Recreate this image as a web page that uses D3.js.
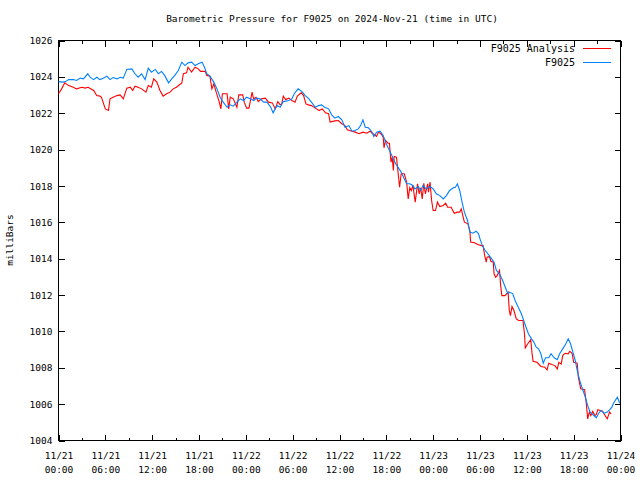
<!DOCTYPE html>
<html><head><meta charset="utf-8">
<script src="https://cdn.jsdelivr.net/npm/d3@7"></script>
<style>
html,body{margin:0;padding:0;background:#fff;}
text{font-family:"DejaVu Sans Mono","Liberation Mono",monospace;font-size:9.5px;fill:#000;}
</style></head>
<body>
<svg id="c" width="640" height="480"></svg>
<script>
// ---- data (hours since 2024-11-21 00:00 UTC, pressure in mb) ----
const seriesNames = ["F9025 Analysis", "F9025"];
const seriesColors = ["#ff0000", "#0080ff"];
const yTicks = [1004,1006,1008,1010,1012,1014,1016,1018,1020,1022,1024,1026];
const xTickLabels = [["11/21","00:00"],["11/21","06:00"],["11/21","12:00"],["11/21","18:00"],["11/22","00:00"],["11/22","06:00"],["11/22","12:00"],["11/22","18:00"],["11/23","00:00"],["11/23","06:00"],["11/23","12:00"],["11/23","18:00"],["11/24","00:00"]];

const analysisHours = [0,0.4,0.8,1.3,1.9,2.3,3.0,3.4,3.8,4.5,4.9,5.3,5.5,6.0,6.4,6.6,7.0,7.5,7.9,8.3,8.75,9.2,9.5,9.8,10.2,10.65,11.2,11.5,11.9,12.2,12.6,13.0,13.4,13.85,14.3,14.7,15.1,15.8,16.0,16.4,16.6,17.05,17.5,17.9,18.2,18.8,19.0,19.4,19.65,19.9,20.2,20.6,20.8,21.0,21.6,21.8,22.0,22.4,22.85,23.1,23.6,23.8,24.1,24.4,24.8,25.0,25.3,25.6,26.0,26.5,26.9,27.4,27.75,28.1,28.4,28.6,28.8,29.1,29.5,29.9,30.3,30.6,31.1,31.4,31.7,32.0,32.4,32.9,33.4,33.8,34.2,34.6,34.8,35.4,35.85,36.3,36.7,37.0,37.6,38.0,38.5,39.0,39.5,39.9,40.3,40.75,41.0,41.4,41.6,41.7,41.9,42.2,42.4,42.5,42.6,42.75,42.9,43.0,43.3,43.5,43.7,43.9,44.3,44.6,44.8,45.0,45.2,45.4,45.7,46.0,46.2,46.4,46.6,46.8,47.0,47.3,47.4,47.6,47.8,48.0,48.3,48.55,48.85,49.3,49.6,49.85,50.3,50.7,51.1,51.4,51.6,51.8,52.0,52.45,52.7,52.8,53.3,53.7,54.2,54.4,54.6,54.8,54.9,55.2,55.4,55.7,55.8,56.0,56.2,56.5,56.65,56.8,57.2,57.6,57.75,57.9,58.1,58.35,58.65,58.95,59.5,59.7,59.8,60.1,60.5,60.65,60.8,61.3,61.8,62.3,62.6,62.8,63.2,63.6,63.9,64.1,64.4,64.6,64.9,65.3,65.5,65.8,66.0,66.45,66.6,66.9,67.4,67.6,67.8,68.0,68.2,68.45,68.7,68.9,69.1,69.4,69.7,69.9,70.3,70.6,70.8];
const analysisValues = [1023.07,1023.34,1023.67,1023.52,1023.43,1023.34,1023.43,1023.38,1023.43,1023.25,1022.97,1022.94,1022.88,1022.24,1022.15,1022.79,1022.88,1022.97,1023.01,1022.79,1023.38,1023.43,1023.25,1023.49,1023.43,1023.34,1023.16,1023.52,1023.43,1023.89,1023.71,1023.25,1022.94,1023.07,1023.16,1023.34,1023.43,1023.67,1024.17,1024.22,1024.53,1024.26,1024.53,1024.44,1024.30,1024.30,1024.08,1024.04,1023.34,1023.62,1023.16,1022.61,1022.24,1023.07,1023.07,1022.24,1022.88,1022.79,1022.33,1023.01,1023.01,1022.61,1022.28,1022.28,1023.16,1022.79,1022.88,1022.64,1022.79,1022.83,1022.61,1022.57,1022.24,1022.64,1022.46,1022.51,1022.94,1022.75,1022.83,1022.70,1022.61,1022.94,1023.12,1022.97,1022.51,1022.46,1022.42,1022.28,1022.15,1022.24,1022.02,1021.97,1021.51,1021.58,1021.60,1021.42,1021.32,1021.09,1021.01,1020.96,1020.87,1020.96,1020.90,1021.01,1020.87,1020.72,1020.96,1020.83,1020.68,1020.10,1020.50,1020.35,1020.35,1019.77,1019.31,1019.58,1018.85,1019.62,1019.58,1018.76,1017.93,1018.67,1018.67,1018.21,1017.29,1017.90,1017.75,1018.03,1017.11,1018.12,1017.57,1017.90,1017.29,1018.15,1017.57,1018.12,1017.66,1018.21,1017.20,1016.65,1016.65,1017.11,1016.87,1016.93,1017.05,1016.83,1016.83,1016.50,1016.56,1016.56,1016.74,1016.37,1016.01,1015.92,1015.55,1014.91,1014.88,1014.78,1014.72,1014.72,1014.17,1013.81,1014.08,1014.12,1013.86,1013.81,1013.17,1012.98,1013.07,1013.35,1012.52,1011.97,1011.97,1012.16,1011.15,1010.87,1011.37,1011.15,1010.69,1010.60,1010.60,1009.87,1009.09,1009.31,1009.54,1008.86,1008.36,1008.30,1008.07,1008.03,1007.89,1008.25,1008.18,1008.12,1007.94,1008.30,1008.21,1008.67,1008.80,1008.77,1008.91,1008.80,1008.30,1008.25,1007.48,1006.84,1006.79,1006.11,1005.19,1005.56,1005.37,1005.61,1005.37,1005.43,1005.69,1005.65,1005.61,1005.46,1005.19,1005.56,1005.46];

const stationHours = [0,0.6,0.9,1.3,1.9,2.3,2.8,3.2,3.75,4.05,4.5,4.9,5.3,5.75,6.2,6.6,7.0,7.5,7.9,8.3,8.75,9.4,9.8,10.2,10.65,11.1,11.5,11.9,12.4,12.8,13.2,13.6,14.1,14.5,14.9,15.35,15.8,16.2,16.6,17.05,17.5,17.9,18.4,18.7,19.0,19.4,19.9,20.3,20.7,21.1,21.6,22.0,22.4,22.85,23.3,23.7,24.1,24.55,25.0,25.4,25.8,26.3,26.7,27.2,27.5,28.0,28.4,28.8,29.5,29.9,30.2,30.7,31.2,31.6,32.0,32.4,32.9,33.3,33.7,34.1,34.6,35.0,35.4,35.85,36.3,36.7,37.2,37.6,38.0,38.4,38.7,39.0,39.3,39.7,40.1,40.4,40.75,41.2,41.6,41.9,42.2,42.6,42.9,43.2,43.5,43.9,44.2,44.6,45.0,45.4,45.65,46.1,46.4,46.7,47.1,47.6,48.0,48.4,48.85,49.3,49.7,50.1,50.6,50.85,51.1,51.4,51.7,52.0,52.4,52.7,53.1,53.5,53.8,54.0,54.3,54.6,55.0,55.5,55.8,56.1,56.5,56.9,57.4,57.6,57.8,58.2,58.5,58.9,59.3,59.6,59.9,60.2,60.6,60.9,61.2,61.5,61.8,62.1,62.4,62.8,63.1,63.5,63.9,64.2,64.6,65.0,65.3,65.6,65.9,66.2,66.5,66.9,67.2,67.5,67.8,68.1,68.45,68.9,69.2,69.5,69.9,70.3,70.6,70.9,71.1,71.6,71.9];
const stationValues = [1023.74,1023.71,1023.74,1023.85,1023.85,1023.80,1023.93,1023.89,1024.17,1023.98,1023.85,1023.98,1023.85,1023.93,1024.04,1023.85,1023.96,1023.89,1023.98,1023.93,1024.41,1024.44,1024.17,1023.98,1024.17,1023.85,1024.48,1024.26,1024.41,1024.17,1024.30,1024.08,1023.67,1023.89,1024.08,1024.35,1024.81,1024.62,1024.77,1024.81,1024.62,1024.72,1024.81,1024.53,1024.17,1024.04,1023.71,1023.34,1022.88,1022.61,1022.33,1022.46,1022.39,1022.61,1022.79,1022.70,1022.88,1022.79,1022.70,1022.83,1022.79,1022.61,1022.61,1022.33,1022.02,1022.42,1022.33,1022.64,1022.70,1022.79,1023.07,1023.34,1023.19,1022.97,1022.83,1022.61,1022.33,1022.42,1022.46,1022.33,1022.24,1021.91,1021.73,1021.82,1021.64,1021.23,1021.32,1021.01,1021.05,1021.14,1021.32,1021.64,1021.23,1021.20,1021.01,1020.72,1020.96,1021.01,1020.77,1020.41,1020.13,1019.77,1019.49,1019.22,1019.03,1018.76,1018.48,1018.12,1018.12,1018.03,1017.84,1017.97,1017.75,1018.03,1017.84,1017.97,1017.84,1017.57,1017.47,1017.29,1017.47,1017.75,1017.90,1017.93,1018.12,1017.75,1017.11,1016.56,1016.10,1015.46,1015.40,1015.51,1015.38,1015.09,1014.72,1014.49,1014.27,1013.99,1013.81,1013.35,1013.17,1012.80,1012.25,1012.07,1012.16,1012.07,1011.70,1011.33,1010.97,1010.60,1010.23,1009.87,1009.59,1009.41,1009.13,1009.04,1008.77,1008.25,1008.55,1008.55,1008.77,1008.55,1008.44,1008.77,1009.04,1009.32,1009.59,1009.32,1008.86,1008.40,1007.76,1007.12,1006.75,1006.38,1005.92,1005.56,1005.43,1005.25,1005.50,1005.65,1005.50,1005.56,1005.69,1005.83,1006.05,1006.38,1006.05];

// ---- drawing ----
const START = Date.UTC(2024, 10, 21, 0, 0);
const H = 3600 * 1000;
const svg = d3.select("#c");
const L = 58.5, R = 620.5, T = 40.5, B = 440.5;
const x = d3.scaleUtc().domain([new Date(START), new Date(START + 72 * H)]).range([L, R]);
const y = d3.scaleLinear().domain([1004, 1026]).range([B, T]);

const g = svg.append("g").attr("shape-rendering", "crispEdges");
const majorDates = d3.range(0, 73, 6).map(h => new Date(START + h * H));
const minorDates = d3.range(0, 73, 3).filter(h => h % 6 !== 0).map(h => new Date(START + h * H));

function clean(s) { s.select(".domain").remove(); s.attr("font-family", null).attr("font-size", null); }

// bottom axis (major ticks with 2-line labels)
const bottom = g.append("g").attr("transform", `translate(0,${B})`)
  .call(d3.axisBottom(x).tickValues(majorDates).tickSize(-6).tickFormat(() => ""))
  .call(clean);
bottom.selectAll(".tick text").each(function(d, i) {
  const t = d3.select(this).attr("y", 0).attr("dy", null);
  t.append("tspan").attr("x", 0).attr("y", 18).text(xTickLabels[i][0]);
  t.append("tspan").attr("x", 0).attr("y", 32).text(xTickLabels[i][1]);
});
// minor ticks bottom
g.append("g").attr("transform", `translate(0,${B})`)
  .call(d3.axisBottom(x).tickValues(minorDates).tickSize(-3).tickFormat(() => "")).call(clean);
// top mirrored ticks
g.append("g").attr("transform", `translate(0,${T})`)
  .call(d3.axisTop(x).tickValues(majorDates).tickSize(-6).tickFormat(() => "")).call(clean);
g.append("g").attr("transform", `translate(0,${T})`)
  .call(d3.axisTop(x).tickValues(minorDates).tickSize(-3).tickFormat(() => "")).call(clean);

// left axis
const left = g.append("g").attr("transform", `translate(${L},0)`)
  .call(d3.axisLeft(y).tickValues(yTicks).tickSize(-6).tickFormat(d3.format("d")))
  .call(clean);
left.selectAll(".tick text").attr("x", -6);
// right mirrored
g.append("g").attr("transform", `translate(${R},0)`)
  .call(d3.axisRight(y).tickValues(yTicks).tickSize(-6).tickFormat(() => "")).call(clean);

// border
g.append("rect").attr("x", L).attr("y", T).attr("width", R - L).attr("height", B - T)
  .attr("fill", "none").attr("stroke", "#000").attr("stroke-width", 1);

// series
const series = [
  { hours: analysisHours, values: analysisValues },
  { hours: stationHours, values: stationValues }
];
const line = d3.line().x(d => x(new Date(START + d[0] * H))).y(d => y(d[1]));
series.forEach((s, i) => {
  const pts = s.hours.map((h, j) => [h, s.values[j]]);
  svg.append("path").datum(pts).attr("d", line)
    .attr("fill", "none").attr("stroke", seriesColors[i]).attr("stroke-width", 1.1)
    .attr("stroke-linejoin", "miter");
});

// legend
seriesNames.forEach((n, i) => {
  const yy = 48 + i * 14;
  svg.append("text").attr("x", 575).attr("y", yy).attr("dy", "0.35em").attr("text-anchor", "end")
    .style("font-size", "10px").text(n);
  svg.append("line").attr("x1", 583).attr("x2", 611).attr("y1", yy + 0.5).attr("y2", yy + 0.5)
    .attr("stroke", seriesColors[i]).attr("stroke-width", 1).attr("shape-rendering", "crispEdges");
});

// title and y label
svg.append("text").attr("x", 332).attr("y", 19).attr("dy", "0.35em").attr("text-anchor", "middle")
  .text("Barometric Pressure for F9025 on 2024-Nov-21 (time in UTC)");
svg.append("text").attr("transform", "translate(10,240) rotate(-90)").attr("dy", "0.35em")
  .attr("text-anchor", "middle").text("milliBars");
</script>
</body></html>
